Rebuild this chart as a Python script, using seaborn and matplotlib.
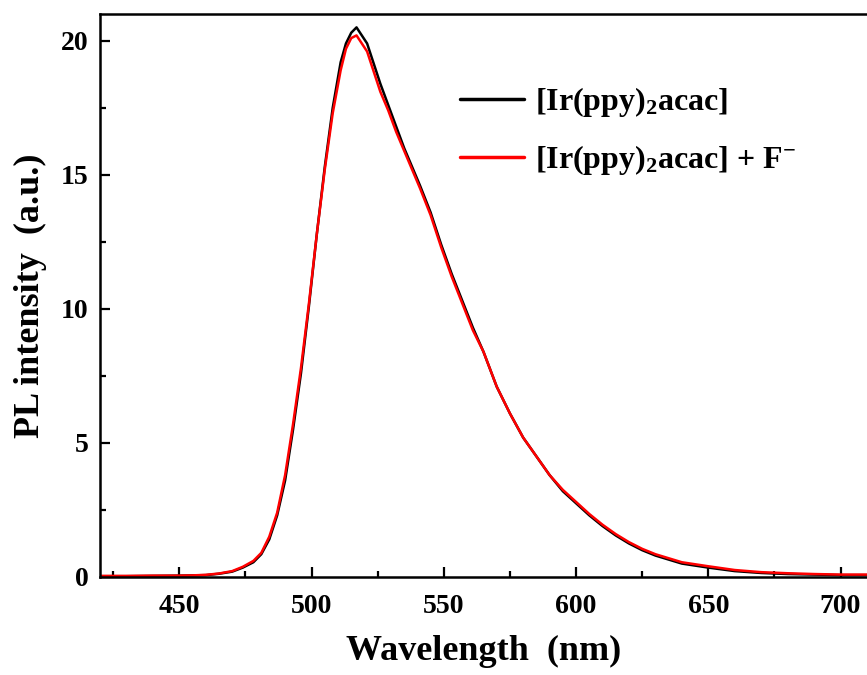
import numpy as np
import pandas as pd
import matplotlib
matplotlib.use("Agg")
import matplotlib.pyplot as plt
import seaborn as sns
from matplotlib.ticker import MultipleLocator

wavelength = [420, 430, 440, 450, 455, 460, 465, 470, 474, 478, 481, 484, 487, 490,
              493, 496, 499, 502, 505, 508, 511, 513, 515, 517, 519, 521, 523, 526,
              529, 532, 535, 538, 541, 545, 549, 553, 557, 561, 565, 570, 575, 580,
              585, 590, 595, 600, 605, 610, 615, 620, 625, 630, 640, 650, 660, 670,
              680, 690, 700, 710]

pl_complex = [0.03, 0.03, 0.04, 0.05, 0.06, 0.07, 0.12, 0.20, 0.35, 0.55, 0.85, 1.4, 2.3, 3.6,
              5.5, 7.6, 10.1, 12.8, 15.3, 17.5, 19.2, 19.9, 20.3, 20.5, 20.2, 19.9, 19.3, 18.4,
              17.6, 16.8, 16.0, 15.3, 14.6, 13.6, 12.4, 11.3, 10.3, 9.3, 8.4, 7.1, 6.1, 5.2,
              4.5, 3.8, 3.2, 2.75, 2.3, 1.9, 1.55, 1.25, 1.0, 0.80, 0.50, 0.35, 0.22, 0.15,
              0.11, 0.09, 0.07, 0.07]

pl_complex_f = [0.04, 0.04, 0.05, 0.05, 0.06, 0.08, 0.13, 0.22, 0.38, 0.60, 0.90, 1.5, 2.4, 3.8,
                5.7, 7.8, 10.2, 12.8, 15.2, 17.3, 18.9, 19.7, 20.1, 20.2, 19.9, 19.6, 19.0, 18.1,
                17.4, 16.6, 15.9, 15.2, 14.5, 13.5, 12.3, 11.2, 10.2, 9.2, 8.4, 7.1, 6.1, 5.2,
                4.5, 3.8, 3.25, 2.8, 2.35, 1.95, 1.6, 1.3, 1.05, 0.85, 0.55, 0.40, 0.26, 0.18,
                0.14, 0.11, 0.09, 0.09]

labels = [r"[Ir(ppy)$_2$acac]", r"[Ir(ppy)$_2$acac] + F$^{-}$"]
colors = ["#000000", "#ff0000"]

df = pd.concat([
    pd.DataFrame({"Wavelength": wavelength, "PL": pl_complex, "Sample": labels[0]}),
    pd.DataFrame({"Wavelength": wavelength, "PL": pl_complex_f, "Sample": labels[1]}),
])

sns.set_theme(style="ticks")
plt.rcParams["font.family"] = ["Liberation Serif", "DejaVu Serif"]
plt.rcParams["font.weight"] = "bold"
plt.rcParams["mathtext.fontset"] = "custom"
plt.rcParams["mathtext.rm"] = "Liberation Serif:bold"
plt.rcParams["mathtext.it"] = "Liberation Serif:bold"
plt.rcParams["mathtext.bf"] = "Liberation Serif:bold"
plt.rcParams["mathtext.default"] = "rm"
for key in ["text.color", "axes.labelcolor", "xtick.color", "ytick.color", "axes.edgecolor"]:
    plt.rcParams[key] = "black"

fig = plt.figure(figsize=(8.67, 6.75), dpi=100)
ax = fig.add_axes([0.1153, 0.1452, 0.8847, 0.8341])

sns.lineplot(data=df, x="Wavelength", y="PL", hue="Sample", palette=colors,
             hue_order=labels, linewidth=1.8, ax=ax, estimator=None, sort=False)

ax.set_xlim(420, 710)
ax.set_ylim(0, 21)
ax.xaxis.set_major_locator(MultipleLocator(50))
ax.xaxis.set_minor_locator(MultipleLocator(25))
ax.yaxis.set_major_locator(MultipleLocator(5))
ax.yaxis.set_minor_locator(MultipleLocator(2.5))
ax.tick_params(which="major", direction="in", length=7, width=1.6, labelsize=20)
ax.tick_params(axis="x", which="major", pad=12)
ax.tick_params(axis="y", which="major", pad=8)
ax.tick_params(which="minor", direction="in", length=4, width=1.6)
for lab in ax.get_xticklabels() + ax.get_yticklabels():
    lab.set_fontweight("bold")

for side in ["left", "bottom", "top"]:
    ax.spines[side].set_linewidth(1.8)
ax.spines["right"].set_visible(False)

ax.set_xlabel("Wavelength  (nm)", fontsize=26, fontweight="bold", labelpad=12)
ax.set_ylabel("PL intensity  (a.u.)", fontsize=26, fontweight="bold", labelpad=10)

leg = ax.legend(loc="upper left", bbox_to_anchor=(0.432, 0.925), frameon=False,
                fontsize=23, handlelength=2.0, handletextpad=0.35, labelspacing=0.75)
for line in leg.get_lines():
    line.set_linewidth(2.5)

fig.savefig("out.png", dpi=100)
